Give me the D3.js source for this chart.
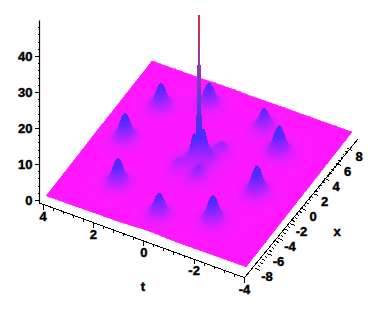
<!DOCTYPE html>
<html lang="en">

<head>
  <meta charset="utf-8">
  <script src='https://d3js.org/d3.v7.min.js'></script>
  <style>
    body { margin: 0; background: #fff; }
    text { font-family: "Liberation Sans", sans-serif; font-weight: bold; font-size: 13px; fill: #000; stroke: #000; stroke-width: 0.45px; }
  </style>
</head>

<body>
  <script>
    // humps: centre (t, x), height above the floor, footprint
    var peakT = [2.54, 2.88, 2.0, -0.05, -1.88, -2.57, -2.28, -1.2, 1.08, 0.2, -0.05, -0.47, 0.53, -0.37, -0.36, 0];
    var peakX = [4.4, -0.35, -5.4, -7.15, -5.74, -1.1, 4.0, 6.08, 6.43, 0.0, 0.6, 1.94, -1.33, 0.31, -1.72, 0];
    var peakZ = [7, 7.6, 7.5, 6.5, 7.5, 8, 8, 5.8, 6.5, 6, 6.6, 2.6, 1.8, 2, 3, 1.4];
    var peakRt = [.52, .52, .52, .52, .52, .52, .52, .52, .52, .26, .26, .5, .5, .3, .45, 1.7];
    var peakRx = [1.35, 1.35, 1.35, 1.35, 1.35, 1.35, 1.35, 1.35, 1.35, .65, .65, 1.3, 1.4, .8, 1.5, 4.8];
    // hump profile against normalised distance, round top with a long tail
    var humpDist = [0, .1, .2, .3, .4, .5, .6, .7, .8, 1, 1.2, 1.5, 2, 2.6];
    var humpShape = [1, .97, .87, .72, .56, .42, .32, .25, .19, .13, .085, .045, .016, 0];
    // the central spike rises in three steps
    var spikeZ = [15.6, 29.5, 43.4];
    var surfaceFloor = 2;
    var colorZ = [2, 2.5, 3.2, 4.2, 5.8, 8, 10.5, 17, 24, 32, 38, 43.4];
    var colorHex = ['#ff18ff', '#fa1aff', '#e41eff', '#bc22ff', '#8c26ff', '#5428ff', '#4030f8', '#5a34e0', '#7a3cc0', '#983c9c', '#c0345c', '#e6283c'];
    var zMajor = [0, 10, 20, 30, 40];
    var zMinor = d3.range(0, 50, 2);
    var tMajor = [4, 2, 0, -2, -4];
    var tMinor = d3.range(-4, 4.01, 0.4);
    var xMajor = [-8, -6, -4, -2, 0, 2, 4, 6, 8];
    var xMinor = d3.range(-8, 8.01, 0.4);

    const xSize = 380; const ySize = 314;
    const svg = d3.select("body").append("svg")
      .attr("width", xSize).attr("height", ySize);

    // oblique projection of the floor plane
    const xRange = [-9.2, 9.2];
    const tToX = d3.scaleLinear().domain([-4, 4]).range([100, -100]);
    const tToY = d3.scaleLinear().domain([-4, 4]).range([35.5, -35.5]);
    const xToX = d3.scaleLinear().domain(xRange).range([-53, 53]);
    const xToY = d3.scaleLinear().domain(xRange).range([67.5, -67.5]);
    const zScale = d3.scaleLinear().domain([0, 50]).range([200, 20]);
    const hump = d3.scaleLinear().domain(humpDist).range(humpShape).clamp(true);
    const color = d3.scaleLinear().domain(colorZ).range(colorHex).clamp(true);

    function surfaceZ(t, x) {
      var z = surfaceFloor;
      peakT.forEach(function(p, i) {
        var d = Math.hypot((t - p) / peakRt[i], (x - peakX[i]) / peakRx[i]);
        z += peakZ[i] * hump(d);
      });
      return z;
    }
    function sx(t, x) { return 199 + tToX(t) + xToX(x); }
    function sy(t, x, z) { return 164 + tToY(t) + xToY(x) + zScale(z) - zScale(surfaceFloor); }

    // surface, drawn back to front
    const tGrid = d3.range(4, -4.001, -0.05);
    const xGrid = d3.range(9.2, -9.201, -0.125);
    const heights = tGrid.map(function(t) { return xGrid.map(function(x) { return surfaceZ(t, x); }); });
    const gSurface = svg.append("g").attr("shape-rendering", "crispEdges").attr("stroke-width", 0.6);

    function drawSpike() {
      var half = [3, 2.25, 1];
      spikeZ.forEach(function(top, k) {
        var w = half[k];
        var from = k == 0 ? surfaceFloor + 4 : spikeZ[k - 1];
        d3.range(from, top, 0.5).forEach(function(z) {
          var z2 = Math.min(z + 0.6, top);
          var y1 = sy(0, 0, z), y2 = sy(0, 0, z2);
          gSurface.append("rect")
            .attr("x", 199 - w).attr("width", 2 * w)
            .attr("y", y2).attr("height", y1 - y2)
            .attr("fill", color(z)).attr("stroke", "none");
        });
      });
    }

    var spikeDone = false;
    for (var i = 0; i < tGrid.length - 1; i++) {
      for (var j = 0; j < xGrid.length - 1; j++) {
        var t0 = tGrid[i], t1 = tGrid[i + 1], x0 = xGrid[j], x1 = xGrid[j + 1];
        if (!spikeDone && t1 <= 0 && x1 <= 0) { drawSpike(); spikeDone = true; }
        var z00 = heights[i][j], z01 = heights[i][j + 1], z10 = heights[i + 1][j], z11 = heights[i + 1][j + 1];
        var c = color((z00 + z01 + z10 + z11) / 4);
        var p = d3.path();
        p.moveTo(sx(t0, x0), sy(t0, x0, z00));
        p.lineTo(sx(t0, x1), sy(t0, x1, z01));
        p.lineTo(sx(t1, x1), sy(t1, x1, z11));
        p.lineTo(sx(t1, x0), sy(t1, x0, z10));
        p.closePath();
        gSurface.append("path").attr("d", p.toString()).attr("fill", c).attr("stroke", c);
      }
    }

    // z axis
    const gz = svg.append("g").attr("transform", "translate(39.5,0)");
    gz.append("g").call(d3.axisLeft(zScale).tickValues(zMinor).tickSize(2).tickSizeOuter(0).tickFormat(""));
    gz.append("g").call(d3.axisLeft(zScale).tickValues(zMajor).tickSize(5).tickSizeOuter(0).tickFormat(d3.format("d")).tickPadding(2));
    gz.selectAll(".domain").attr("stroke", "none");
    gz.selectAll(".tick line").attr("stroke", "#000").attr("shape-rendering", "crispEdges");
    gz.append("line").attr("y1", 20.5).attr("y2", 203).attr("stroke", "#000").attr("stroke-width", 1.2);

    // t axis runs along the bottom left edge
    const tAxisX = d3.scaleLinear().domain([4, -4]).range([43, 244.5]);
    const tAxisY = d3.scaleLinear().domain([4, -4]).range([204.5, 277.7]);
    const gAxes = svg.append("g").attr("stroke", "#000").attr("fill", "none").attr("shape-rendering", "crispEdges");
    gAxes.append("line")
      .attr("x1", 39.5).attr("y1", 203).attr("x2", tAxisX(-4)).attr("y2", tAxisY(-4));
    gAxes.selectAll("line.tminor").data(tMinor).enter().append("line")
      .attr("x1", tAxisX).attr("x2", tAxisX)
      .attr("y1", tAxisY).attr("y2", function(d) { return tAxisY(d) + 2.5; });
    gAxes.selectAll("line.tmajor").data(tMajor).enter().append("line")
      .attr("x1", tAxisX).attr("x2", tAxisX)
      .attr("y1", tAxisY).attr("y2", function(d) { return tAxisY(d) + 5; });
    svg.selectAll("text.tlab").data(tMajor).enter().append("text")
      .attr("class", "tlab")
      .attr("x", tAxisX).attr("y", function(d) { return tAxisY(d) + 16; })
      .attr("text-anchor", "middle")
      .text(function(d) { return d; });

    // x axis runs up the bottom right edge
    const xAxisX = d3.scaleLinear().domain([-8, 8]).range([255.5, 347.5]);
    const xAxisY = d3.scaleLinear().domain([-8, 8]).range([268.5, 148.5]);
    gAxes.append("line")
      .attr("x1", 244.5).attr("y1", 277.7).attr("x2", 358).attr("y2", 139);
    gAxes.selectAll("line.xminor").data(xMinor).enter().append("line")
      .attr("x1", xAxisX).attr("y1", xAxisY)
      .attr("x2", function(d) { return xAxisX(d) + 2.5; })
      .attr("y2", function(d) { return xAxisY(d) + 1; });
    gAxes.selectAll("line.xmajor").data(xMajor).enter().append("line")
      .attr("x1", xAxisX).attr("y1", xAxisY)
      .attr("x2", function(d) { return xAxisX(d) + 5; })
      .attr("y2", function(d) { return xAxisY(d) + 2; });
    svg.selectAll("text.xlab").data(xMajor).enter().append("text")
      .attr("class", "xlab")
      .attr("x", function(d) { return xAxisX(d) + 11.5; })
      .attr("y", function(d) { return xAxisY(d) + 12; })
      .attr("text-anchor", "middle")
      .text(function(d) { return d; });

    svg.append("text").attr("x", 143).attr("y", 291).attr("text-anchor", "middle").text("t");
    svg.append("text").attr("x", 337).attr("y", 236).attr("text-anchor", "middle").text("x");
  </script>
</body>

</html>
